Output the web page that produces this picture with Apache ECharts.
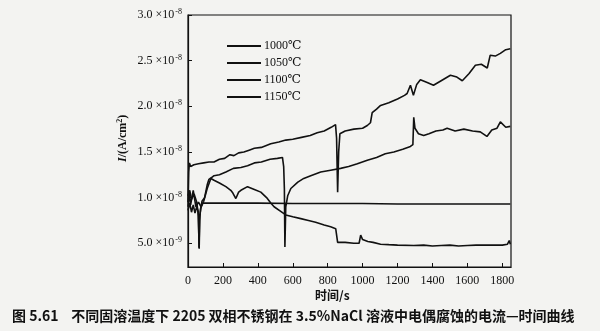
<!DOCTYPE html>
<html><head><meta charset="utf-8">
<script src="https://cdn.jsdelivr.net/npm/echarts@6/dist/echarts.min.js"></script>
<style>html,body{margin:0;padding:0;background:#f3f3f1}#c{width:600px;height:331px}</style>
</head><body><div id="c"></div>
<script>
// values in units of 1e-9 A/cm^2, time in s
const seriesNames = ['1000℃', '1050℃', '1100℃', '1150℃'];
const yTickValues = [5, 10, 15, 20, 25, 30];
const yTickLabels = ['5.0 ×10|-9', '1.0 ×10|-8', '1.5 ×10|-8', '2.0 ×10|-8', '2.5 ×10|-8', '3.0 ×10|-8'];
const xTickValues = [0, 200, 400, 600, 800, 1000, 1200, 1400, 1600, 1800];

const tA = [0,4,8,15,34,60,90,120,149,180,210,240,263,290,320,350,380,420,474,520,560,600,650,700,740,780,820,845,851,857,863,870,900,950,1000,1027,1045,1055,1080,1103,1150,1200,1240,1255,1274,1291,1310,1331,1370,1406,1450,1503,1540,1571,1610,1646,1680,1714,1731,1760,1789,1820,1846];
const vA = [9.5,12.8,13.8,13.4,13.6,13.7,13.8,13.9,13.9,14.2,14.3,14.7,14.6,14.9,15.0,15.2,15.4,15.5,15.9,16.1,16.3,16.4,16.6,16.8,17.1,17.3,17.7,18.0,16.5,10.6,15.0,17.0,17.3,17.5,17.6,17.9,18.2,19.3,19.7,20.1,20.4,20.8,21.2,21.4,22.3,21.2,22.4,22.9,22.6,22.3,22.8,23.4,23.2,22.8,23.6,24.5,24.6,24.2,25.6,25.5,25.8,26.2,26.3];

const tB = [0,10,20,35,50,60,63,67,80,95,110,120,135,149,180,217,260,303,341,380,420,470,512,541,548,552,555,560,571,589,629,663,703,760,817,874,920,970,1027,1080,1130,1179,1230,1274,1288,1293,1300,1320,1350,1380,1420,1460,1484,1530,1580,1630,1674,1712,1740,1770,1789,1820,1846];
const vB = [10.2,10.8,9.8,10.4,9.5,8.0,4.5,8.0,9.6,10.0,11.4,12.0,12.2,12.4,12.5,12.8,13.2,13.3,13.5,13.8,13.9,14.2,14.3,14.4,13.4,11.0,4.6,9.0,10.2,11.0,11.7,12.1,12.4,12.8,13.0,13.2,13.4,13.7,14.1,14.4,14.8,15.0,15.3,15.6,15.8,18.8,17.6,17.0,16.8,17.0,17.3,17.4,17.6,17.3,17.5,17.3,17.2,16.7,17.4,17.6,18.3,17.7,17.8];

const tC = [0,8,15,30,45,60,75,90,110,131,149,180,217,245,257,274,290,303,341,380,417,450,474,493,531,560,600,646,690,731,780,817,846,852,857,900,950,980,989,1000,1030,1060,1103,1150,1200,1293,1350,1400,1450,1500,1550,1600,1650,1700,1750,1800,1830,1840,1846];
const vC = [9.0,10.5,9.2,10.8,9.0,9.5,9.0,9.6,11.0,12.1,11.9,11.6,11.2,10.8,10.5,9.9,10.6,10.8,11.2,10.9,10.6,10.0,9.4,9.0,8.5,8.1,7.9,7.7,7.5,7.3,7.0,6.8,6.6,6.4,5.1,5.1,5.0,5.0,5.9,5.4,5.2,5.1,4.9,4.85,4.8,4.75,4.8,4.7,4.75,4.8,4.7,4.75,4.8,4.8,4.8,4.8,4.9,5.3,4.9];

const tD = [0,10,20,30,40,50,58,62,64,67,72,85,120,200,400,600,800,1000,1200,1400,1600,1846];
const vD = [8.6,9.4,8.4,9.2,8.3,9.0,8.5,6.0,4.4,7.5,8.8,9.4,9.4,9.4,9.4,9.35,9.35,9.35,9.3,9.3,9.3,9.3];

const times = [tA, tB, tC, tD];
const vals = [vA, vB, vC, vD];

const chart = echarts.init(document.getElementById('c'));
const serif = '"Liberation Serif","DejaVu Serif",serif';
chart.setOption({
  backgroundColor: '#f3f3f1',
  animation: false,
  grid: { left: 188, right: 89, top: 15, bottom: 64, show: true, borderColor: '#111', borderWidth: 1.2, backgroundColor: 'transparent' },
  legend: {
    orient: 'vertical', left: 222, top: 35, itemWidth: 34, itemHeight: 2, itemGap: 5,
    icon: 'rect',
    textStyle: { fontFamily: serif, fontSize: 12, color: '#111', padding: [0, 0, 0, -2] },
    data: seriesNames
  },
  xAxis: {
    type: 'value', min: 0, max: 1850,
    axisLine: { lineStyle: { color: '#111', width: 1.2 } },
    axisTick: { inside: true, length: 4, lineStyle: { color: '#111' }, customValues: xTickValues },
    axisLabel: { customValues: xTickValues, formatter: function (v) { return String(v); }, fontFamily: serif, fontSize: 12, color: '#111', margin: 8 },
    splitLine: { show: false }
  },
  yAxis: {
    type: 'value', min: 2.4, max: 30,
    axisLine: { show: true, lineStyle: { color: '#111', width: 1.2 } },
    axisTick: { show: true, inside: true, length: 4, lineStyle: { color: '#111' }, customValues: yTickValues },
    axisLabel: {
      customValues: yTickValues, color: '#111', margin: 6,
      formatter: function (v) {
        const i = yTickValues.indexOf(v);
        const p = yTickLabels[i].split('|');
        return '{a|' + p[0] + '}{s|' + p[1] + '}';
      },
      rich: {
        a: { fontFamily: serif, fontSize: 12, color: '#111', lineHeight: 14 },
        s: { fontFamily: serif, fontSize: 8, color: '#111', verticalAlign: 'top', lineHeight: 14, padding: [0, 0, 8, 1] }
      }
    },
    splitLine: { show: false }
  },
  graphic: [
    { type: 'text', left: 315, top: 289, style: { text: '时间/s', font: 'bold 12px "Noto Sans CJK SC"', fill: '#111' } },
    { type: 'text', x: 116, y: 162, rotation: Math.PI / 2, style: { rich: { i: { font: 'italic bold 12px ' + serif, fill: '#111' }, n: { font: 'bold 12px ' + serif, fill: '#111' }, s: { font: 'bold 8px ' + serif, fill: '#111', verticalAlign: 'top', padding: [0,0,6,0] } }, text: '{i|I}{n|/(A/cm}{s|2}{n|)}' } },
    { type: 'text', left: 12, top: 309, style: { text: '图 5.61    不同固溶温度下 2205 双相不锈钢在 3.5%NaCl 溶液中电偶腐蚀的电流—时间曲线', font: 'bold 14px "Noto Sans CJK SC"', fill: '#111' } }
  ],
  series: seriesNames.map(function (n, k) {
    return {
      name: n, type: 'line', showSymbol: false, symbol: 'none',
      lineStyle: { color: '#111', width: 1.6 }, itemStyle: { color: '#111' },
      data: times[k].map(function (t, i) { return [t, vals[k][i]]; })
    };
  })
});
</script>
</body></html>
